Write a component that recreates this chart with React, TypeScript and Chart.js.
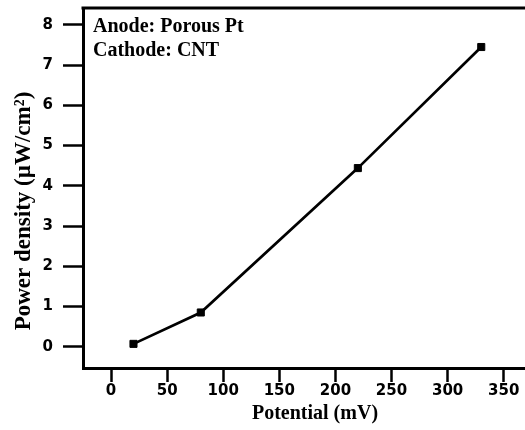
import React, { useEffect, useRef } from "react";
import { Chart, registerables } from "chart.js";

Chart.register(...registerables);

const potential = [20, 80, 220, 330];
const powerDensity = [0.07, 0.85, 4.44, 7.45];
const xTicks = [0, 50, 100, 150, 200, 250, 300, 350];
const yTicks = [0, 1, 2, 3, 4, 5, 6, 7, 8];
const xTitle = "Potential (mV)";
const yTitle = "Power density (\u00B5W/cm\u00B2)";
const notes = ["Anode: Porous Pt", "Cathode: CNT"];

const SERIF = '"Liberation Serif", "Times New Roman", serif';
const SANS = '"DejaVu Sans", "Liberation Sans", Arial, sans-serif';

const decor = {
  id: "decor",
  afterDraw(chart: any) {
    const { ctx, chartArea } = chart;
    ctx.save();
    // top frame line
    ctx.strokeStyle = "#000";
    ctx.lineWidth = 3;
    ctx.beginPath();
    ctx.moveTo(chartArea.left - 1.5, chartArea.top);
    ctx.lineTo(chartArea.right, chartArea.top);
    ctx.stroke();
    // annotations
    ctx.fillStyle = "#000";
    ctx.font = `bold 20px ${SERIF}`;
    ctx.textAlign = "left";
    ctx.textBaseline = "alphabetic";
    notes.forEach((t, i) => ctx.fillText(t, chartArea.left + 10, 32 + i * 23.5));
    // x title
    ctx.font = `bold 20px ${SERIF}`;
    ctx.textAlign = "center";
    ctx.fillText(xTitle, 315, 419);
    // y title
    ctx.translate(30, 211);
    ctx.rotate(-Math.PI / 2);
    ctx.font = `bold 23px ${SERIF}`;
    ctx.fillText(yTitle, 0, 0);
    ctx.restore();
  },
};

const noPad = (s: any) => {
  s.paddingTop = 0;
  s.paddingBottom = 0;
  s.paddingLeft = 0;
  s.paddingRight = 0;
};

export default function App() {
  const ref = useRef<HTMLCanvasElement>(null);
  useEffect(() => {
    if (!ref.current) return;
    const chart = new Chart(ref.current, {
      type: "line",
      data: {
        datasets: [
          {
            data: potential.map((x, i) => ({ x, y: powerDensity[i] })),
            borderColor: "#000",
            backgroundColor: "#000",
            borderWidth: 2.7,
            pointStyle: "rect",
            pointRadius: 5,
            pointBorderWidth: 1,
            tension: 0,
          },
        ],
      },
      options: {
        animation: false,
        responsive: false,
        devicePixelRatio: 1,
        layout: { autoPadding: false, padding: { top: 8, left: 0, right: 0, bottom: 0 } },
        plugins: { legend: { display: false }, tooltip: { enabled: false } },
        scales: {
          x: {
            type: "linear",
            min: -25,
            max: 369,
            afterFit: (s: any) => {
              s.height = 62;
              noPad(s);
            },
            afterBuildTicks: (s: any) => {
              s.ticks = xTicks.map((v) => ({ value: v }));
            },
            border: { color: "#000", width: 3 },
            grid: {
              drawOnChartArea: false,
              drawTicks: true,
              tickLength: 14,
              tickWidth: 2.5,
              tickColor: "#000",
            },
            ticks: {
              color: "#000",
              padding: 0,
              maxRotation: 0,
              font: { family: SANS, size: 15, weight: "bold" },
            },
          },
          y: {
            type: "linear",
            min: -0.53,
            max: 8.42,
            afterFit: (s: any) => {
              s.width = 83;
              noPad(s);
            },
            afterBuildTicks: (s: any) => {
              s.ticks = yTicks.map((v) => ({ value: v }));
            },
            border: { color: "#000", width: 3 },
            grid: {
              drawOnChartArea: false,
              drawTicks: true,
              tickLength: 20,
              tickWidth: 2.5,
              tickColor: "#000",
            },
            ticks: {
              color: "#000",
              padding: 10,
              font: { family: SANS, size: 15, weight: "bold" },
            },
          },
        },
      },
      plugins: [decor],
    });
    return () => chart.destroy();
  }, []);
  return (
    <div style={{ position: "absolute", left: 0, top: 0, width: 525, height: 430, background: "#fff" }}>
      <canvas ref={ref} width={525} height={430} />
    </div>
  );
}
